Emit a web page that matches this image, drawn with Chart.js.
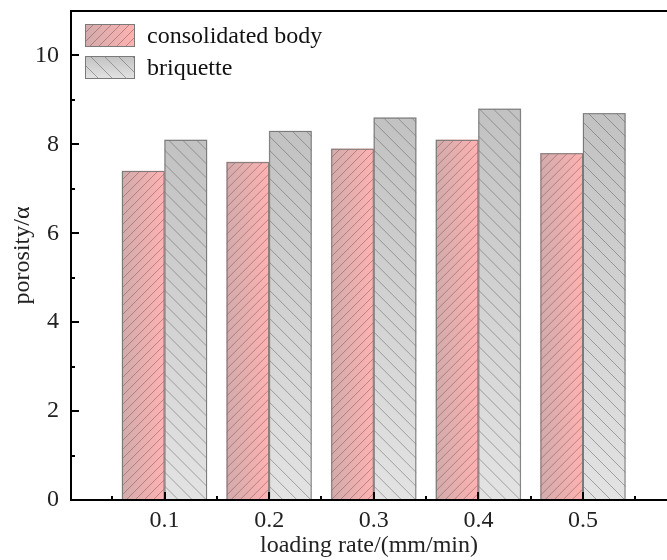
<!DOCTYPE html>
<html>
<head>
<meta charset="utf-8">
<script src="https://cdn.jsdelivr.net/npm/chart.js@4.4.0/dist/chart.umd.min.js"></script>
<style>
  html, body { margin: 0; padding: 0; background: #fff; overflow: hidden; }
  #wrap { width: 667px; height: 560px; position: relative; }
</style>
</head>
<body>
<div id="wrap"><canvas id="chart"></canvas></div>
<script>
//////////////////////
// Data
//////////////////////
const loadingRates = [0.1, 0.2, 0.3, 0.4, 0.5];
const consolidatedBody = [7.4, 7.6, 7.9, 8.1, 7.8];
const briquette = [8.1, 8.3, 8.6, 8.8, 8.7];
const seriesNames = ["consolidated body", "briquette"];
const yTicks = [0, 2, 4, 6, 8, 10];
const xTicks = [0.1, 0.2, 0.3, 0.4, 0.5];

const FONT = "'Liberation Serif', 'Times New Roman', serif";
const BAR_W = 42.5;

//////////////////////
// Fill helpers
//////////////////////
function redFill(ctx, x0, x1) {
    const g = ctx.createLinearGradient(x0, 0, x1, 0);
    g.addColorStop(0, "#d2abab");
    g.addColorStop(1, "#ffb2b2");
    return g;
}

function grayFill(ctx, y0, y1) {
    const g = ctx.createLinearGradient(0, y0, 0, y1);
    g.addColorStop(0, "#c2c2c2");
    g.addColorStop(1, "#e3e3e3");
    return g;
}

// diagonal hatch inside a rect; dir 1 = "///", dir -1 = "\\\"
function hatch(ctx, x, y, w, h, dir, gap, color) {
    ctx.save();
    ctx.beginPath();
    ctx.rect(x, y, w, h);
    ctx.clip();
    ctx.strokeStyle = color;
    ctx.lineWidth = 1;
    ctx.beginPath();
    for (let k = -h; k < w + h; k += gap) {
        if (dir > 0) {
            ctx.moveTo(x + k, y + h);
            ctx.lineTo(x + k + h, y);
        } else {
            ctx.moveTo(x + k, y);
            ctx.lineTo(x + k + h, y + h);
        }
    }
    ctx.stroke();
    ctx.restore();
}

const hatchStyles = [
    { dir: 1, gap: 9, color: "rgba(110,70,70,0.45)" },
    { dir: -1, gap: 14, color: "rgba(80,80,80,0.45)" }
];

//////////////////////
// Plugins
//////////////////////
const barHatch = {
    id: "barHatch",
    afterDatasetsDraw(chart) {
        const ctx = chart.ctx;
        chart.data.datasets.forEach((ds, i) => {
            const meta = chart.getDatasetMeta(i);
            const st = hatchStyles[i];
            meta.data.forEach(bar => {
                const p = bar.getProps(["x", "y", "base", "width"], true);
                const left = p.x - p.width / 2;
                hatch(ctx, left, p.y, p.width, p.base - p.y, st.dir, st.gap, st.color);
                ctx.save();
                ctx.strokeStyle = "#7a7a7a";
                ctx.lineWidth = 1;
                ctx.strokeRect(left + 0.5, p.y + 0.5, p.width - 1, p.base - p.y - 1);
                ctx.restore();
            });
        });
    }
};

// frame, inward ticks and the legend box
const frame = {
    id: "frame",
    afterDraw(chart) {
        const ctx = chart.ctx;
        const a = chart.chartArea;
        const xs = chart.scales.x, ys = chart.scales.y;
        ctx.save();
        ctx.strokeStyle = "#000";
        ctx.lineWidth = 2;
        ctx.beginPath();
        ctx.moveTo(a.right + 2, a.top);
        ctx.lineTo(a.left, a.top);
        ctx.lineTo(a.left, a.bottom);
        ctx.lineTo(a.right + 2, a.bottom);
        ctx.stroke();

        ctx.beginPath();
        for (let v = 1; v <= 10; v++) {
            const py = Math.round(ys.getPixelForValue(v));
            const len = v % 2 === 0 ? 8 : 4;
            ctx.moveTo(a.left, py);
            ctx.lineTo(a.left + len, py);
        }
        for (let k = 1; k <= 11; k++) {
            const px = Math.round(xs.getPixelForValue(k * 0.05));
            const len = k % 2 === 0 ? 8 : 4;
            ctx.moveTo(px, a.bottom);
            ctx.lineTo(px, a.bottom - len);
        }
        ctx.stroke();

        // legend
        const lx = a.left + 14, ly = a.top + 13, sw = 50, sh = 23, row = 32;
        seriesNames.forEach((name, i) => {
            const y0 = ly + i * row;
            ctx.fillStyle = i === 0 ? redFill(ctx, lx, lx + sw) : grayFill(ctx, y0, y0 + sh);
            ctx.fillRect(lx, y0, sw, sh);
            const st = hatchStyles[i];
            hatch(ctx, lx, y0, sw, sh, st.dir, st.gap, st.color);
            ctx.strokeStyle = "#7a7a7a";
            ctx.lineWidth = 1;
            ctx.strokeRect(lx + 0.5, y0 + 0.5, sw - 1, sh - 1);
            ctx.fillStyle = "#111";
            ctx.font = "24px " + FONT;
            ctx.textBaseline = "middle";
            ctx.fillText(name, lx + sw + 12, y0 + sh / 2 + 1);
        });
        ctx.restore();
    }
};

//////////////////////
// Chart
//////////////////////
const ctx = document.getElementById("chart").getContext("2d");

new Chart(ctx, {
    type: "bar",
    data: {
        datasets: [
            {
                label: seriesNames[0],
                data: loadingRates.map((r, i) => ({ x: r, y: consolidatedBody[i] })),
                backgroundColor: c => {
                    const a = c.chart.chartArea;
                    if (!a || c.raw === undefined) return "#f2b5b5";
                    const px = c.chart.scales.x.getPixelForValue(c.raw.x);
                    return redFill(c.chart.ctx, px - BAR_W, px);
                },
                borderWidth: 0,
                barThickness: BAR_W
            },
            {
                label: seriesNames[1],
                data: loadingRates.map((r, i) => ({ x: r, y: briquette[i] })),
                backgroundColor: c => {
                    const a = c.chart.chartArea;
                    if (!a || c.raw === undefined) return "#d0d0d0";
                    const ys = c.chart.scales.y;
                    return grayFill(c.chart.ctx, ys.getPixelForValue(c.raw.y), a.bottom);
                },
                borderWidth: 0,
                barThickness: BAR_W
            }
        ]
    },
    options: {
        responsive: true,
        maintainAspectRatio: false,
        animation: false,
        layout: { padding: { top: 11, right: 0, left: 0, bottom: 0 } },
        plugins: {
            legend: { display: false },
            tooltip: { enabled: false }
        },
        scales: {
            x: {
                type: "linear",
                offset: false,
                min: 0.0106,
                max: 0.5803,
                afterBuildTicks: s => { s.ticks = xTicks.map(v => ({ value: v })); },
                afterFit: s => { s.height = 60; s.paddingLeft = 0; s.paddingRight = 0; },
                grid: { display: false, drawTicks: false, offset: false },
                border: { display: false },
                ticks: {
                    color: "#222",
                    font: { family: FONT, size: 24 },
                    padding: 6,
                    maxRotation: 0,
                    callback: v => v.toFixed(1)
                },
                title: {
                    display: true,
                    text: "loading rate/(mm/min)",
                    color: "#222",
                    font: { family: FONT, size: 24 },
                    padding: { top: 0, bottom: 0 }
                }
            },
            y: {
                min: 0,
                max: 11,
                afterBuildTicks: s => { s.ticks = yTicks.map(v => ({ value: v })); },
                afterFit: s => { s.width = 71; s.paddingTop = 0; s.paddingBottom = 0; },
                grid: { display: false, drawTicks: false },
                border: { display: false },
                ticks: {
                    color: "#222",
                    font: { family: FONT, size: 24 },
                    padding: 12
                },
                title: {
                    display: true,
                    text: "porosity/α",
                    color: "#222",
                    font: { family: FONT, size: 24 },
                    padding: { top: 8, bottom: 0 }
                }
            }
        }
    },
    plugins: [barHatch, frame]
});
</script>
</body>
</html>
